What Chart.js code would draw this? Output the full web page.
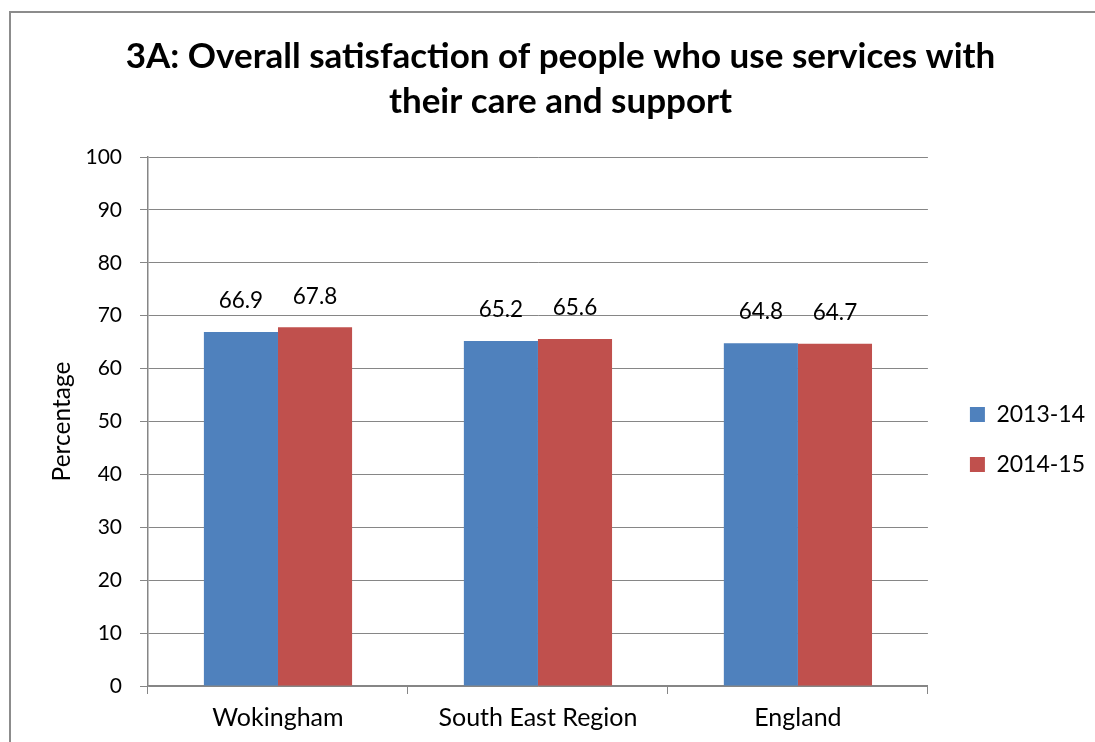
<!DOCTYPE html>
<html lang="en">
<head>
  <meta charset="UTF-8" />
  <title>3A: Overall satisfaction</title>
  <script src="https://cdn.jsdelivr.net/npm/chart.js"></script>
  <style>
    body { margin: 0; background: #fff; }
    .wrap { width: 1095px; height: 742px; position: relative; }
  </style>
</head>
<body>
  <div class="wrap"><canvas id="chart"></canvas></div>
  <script>
    const categories = ['Wokingham', 'South East Region', 'England'];
    const seriesNames = ['2013-14', '2014-15'];
    const values2013 = [66.9, 65.2, 64.8];
    const values2014 = [67.8, 65.6, 64.7];
    const titleLines = ['3A: Overall satisfaction of people who use services with', 'their care and support'];

    const FONT = "Lato, 'Open Sans', sans-serif";
    const GRID = '#868686';

    // outer frame (only top and left edges are visible in the original)
    const framePlugin = {
      id: 'frame',
      afterLayout(chart) {
        // leave a wider gap between plot and legend
        chart.legend.left += 15;
        chart.legend.right += 15;
      },
      afterDraw(chart) {
        const c = chart.ctx;
        c.save();
        c.strokeStyle = '#8c8c8c';
        c.lineWidth = 2;
        c.beginPath();
        c.moveTo(10, 742);
        c.lineTo(10, 12);
        c.lineTo(1095, 12);
        c.stroke();
        c.restore();
      }
    };

    // value labels above each bar
    const valueLabels = {
      id: 'valueLabels',
      afterDatasetsDraw(chart) {
        const c = chart.ctx;
        c.save();
        c.font = '22.5px ' + FONT;
        c.fillStyle = '#000';
        c.textAlign = 'center';
        c.textBaseline = 'middle';
        chart.data.datasets.forEach((ds, i) => {
          chart.getDatasetMeta(i).data.forEach((bar, j) => {
            c.fillText(ds.data[j].toFixed(1), bar.x, bar.y - 31);
          });
        });
        c.restore();
      }
    };

    new Chart(document.getElementById('chart'), {
      type: 'bar',
      data: {
        labels: categories,
        datasets: [
          { label: seriesNames[0], data: values2013, backgroundColor: '#4f81bd' },
          { label: seriesNames[1], data: values2014, backgroundColor: '#c0504d' }
        ]
      },
      options: {
        responsive: true,
        maintainAspectRatio: false,
        animation: false,
        devicePixelRatio: 1,
        categoryPercentage: 0.57,
        barPercentage: 1,
        layout: { padding: { top: 12, left: 41, right: 15, bottom: 9 } },
        plugins: {
          title: {
            display: true,
            text: titleLines,
            color: '#000',
            font: { family: FONT, size: 35, weight: 'bold', lineHeight: 1.286 },
            padding: { top: 22, bottom: 33 }
          },
          legend: {
            position: 'right',
            fullSize: false,
            title: { display: true, text: ' ', font: { size: 20 }, padding: 6 },
            labels: {
              color: '#000',
              font: { family: FONT, size: 23 },
              boxWidth: 15,
              boxHeight: 15,
              padding: 27
            }
          },
          tooltip: { enabled: false }
        },
        scales: {
          x: {
            afterFit(scale) { scale.height = 47; },
            grid: { offset: true, drawOnChartArea: false, color: GRID, tickLength: 8 },
            border: { color: GRID, width: 1.5 },
            ticks: { color: '#000', font: { family: FONT, size: 25 }, padding: 9 }
          },
          y: {
            afterFit(scale) { scale.width = 107; },
            min: 0,
            max: 100,
            ticks: { stepSize: 10, color: '#000', font: { family: FONT, size: 21 }, padding: 18 },
            grid: { color: GRID, tickLength: 8 },
            border: { color: GRID, width: 1.5 },
            title: { display: true, text: 'Percentage', color: '#000', font: { family: FONT, size: 24.5 }, padding: 6 }
          }
        }
      },
      plugins: [framePlugin, valueLabels]
    });
  </script>
</body>
</html>
